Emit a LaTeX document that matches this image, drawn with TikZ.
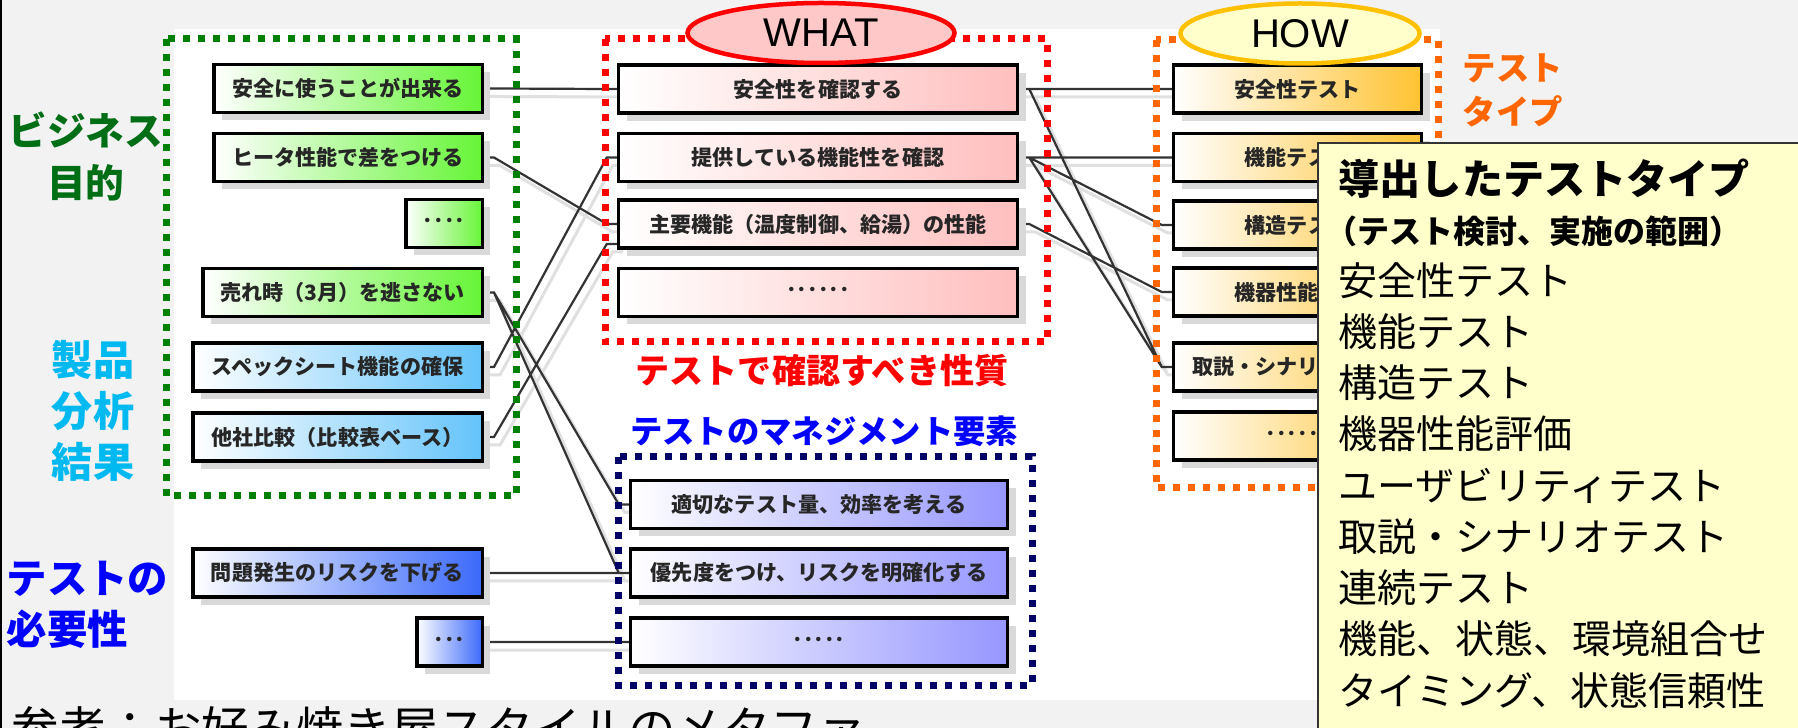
\documentclass[tikz,border=0pt]{standalone}
\usepackage{fontspec}
\setmainfont{Noto Sans CJK JP}
\newfontfamily\latinfont{Liberation Sans}
\usetikzlibrary{shapes.geometric,shadows,backgrounds}

\definecolor{pagegray}{RGB}{242,242,242}
\definecolor{goalgreen}{RGB}{102,245,55}
\definecolor{specblue}{RGB}{100,195,250}
\definecolor{needblue}{RGB}{60,105,250}
\definecolor{whatpink}{RGB}{255,190,190}
\definecolor{mgmtviolet}{RGB}{150,150,255}
\definecolor{howgold}{RGB}{255,195,50}
\definecolor{grpgreen}{RGB}{0,128,0}
\definecolor{grpred}{RGB}{255,0,0}
\definecolor{grpnavy}{RGB}{0,0,102}
\definecolor{grporange}{RGB}{255,102,0}
\definecolor{labelgreen}{RGB}{0,110,20}
\definecolor{labelcyan}{RGB}{0,185,240}
\definecolor{labelblue}{RGB}{0,0,255}
\definecolor{notefill}{RGB}{255,255,204}
\definecolor{whatfill}{RGB}{255,200,200}
\definecolor{howline}{RGB}{255,192,0}

\tikzset{
  item/.style={draw=black, line width=0.35mm, minimum height=0.48cm, inner sep=0pt,
    font=\bfseries\fontsize{6}{7}\selectfont, text=black!85,
    drop shadow={shadow xshift=0.08cm, shadow yshift=-0.08cm, fill=black!15, opacity=1}},
  goal/.style={item, left color=white, right color=goalgreen},
  spec/.style={item, left color=white, right color=specblue},
  need/.style={item, left color=white, right color=needblue},
  prop/.style={item, left color=white, right color=whatpink, minimum width=3.99cm},
  mgmt/.style={item, left color=white, right color=mgmtviolet, minimum width=3.77cm},
  ttype/.style={item, left color=white, right color=howgold, minimum width=2.48cm},
  group/.style={line width=0.7mm, dash pattern=on 0.7mm off 0.8mm},
  link/.style={draw=black!80, line width=0.22mm,
    preaction={draw=black!12, line width=0.3mm, transform canvas={shift={(0.06,-0.08)}}},
    to path={-- ++(0.1,0) -- ([xshift=-0.1cm]\tikztotarget) -- (\tikztotarget)}},
  badge/.style={ellipse, line width=0.45mm, minimum height=0.6cm, inner sep=0pt,
    font=\latinfont\fontsize{11.4}{13}\selectfont},
  tag/.style={inner sep=0pt, font=\bfseries},
}

\begin{document}
\begin{tikzpicture}
    \useasboundingbox (0,0) rectangle (17.98,-7.28);
    \clip (0,0) rectangle (17.98,-7.28);
    % page and sheet
    \begin{scope}[on background layer]
        \fill[pagegray] (0,0) rectangle (17.98,-7.28);
        \fill[white] (1.74,-0.29) rectangle (14.40,-7.00);
        \draw[line width=0.25mm] (0.0125,0) -- (0.0125,-7.28);
    \end{scope}
    % left column: goals, analysis, needs
    \node[goal, minimum width=2.685cm, anchor=east] (safeUse) at (4.84,-0.885) {安全に使うことが出来る};
    \node[goal, minimum width=2.685cm, anchor=east] (heaterPerf) at (4.84,-1.575) {ヒータ性能で差をつける};
    \node[goal, minimum width=0.765cm, anchor=east] (goalDots) at (4.84,-2.235) {････};
    \node[goal, minimum width=2.795cm, anchor=east] (season) at (4.84,-2.925) {売れ時（3月）を逃さない};
    \node[spec, minimum width=2.895cm, anchor=east] (specSheet) at (4.84,-3.67) {スペックシート機能の確保};
    \node[spec, minimum width=2.895cm, anchor=east] (compare) at (4.84,-4.37) {他社比較（比較表ベース）};
    \node[need, minimum width=2.895cm, anchor=east] (riskDown) at (4.84,-5.73) {問題発生のリスクを下げる};
    \node[need, minimum width=0.655cm, anchor=east] (needDots) at (4.84,-6.42) {･･･};
    % WHAT column
    \node[prop] (checkSafety) at (8.18,-0.89) {安全性を確認する};
    \node[prop] (checkFunc) at (8.18,-1.575) {提供している機能性を確認};
    \node[prop] (mainPerf) at (8.18,-2.24) {主要機能（温度制御、給湯）の性能};
    \node[prop] (whatDots) at (8.18,-2.925) {･･････};
    \coordinate (mainPerfLow) at ([yshift=-0.2cm]mainPerf.west);
    % management column
    \node[mgmt] (testVolume) at (8.19,-5.045) {適切なテスト量、効率を考える};
    \node[mgmt] (priority) at (8.19,-5.73) {優先度をつけ、リスクを明確化する};
    \node[mgmt] (mgmtDots) at (8.19,-6.42) {･････};
    % HOW column
    \node[ttype] (safetyTest) at (12.975,-0.89) {安全性テスト};
    \node[ttype] (funcTest) at (12.975,-1.575) {機能テスト};
    \node[ttype] (structTest) at (12.975,-2.25) {構造テスト};
    \node[ttype] (devicePerf) at (12.975,-2.92) {機器性能評価};
    \node[ttype] (manualTest) at (12.975,-3.67) {取説・シナリオテスト};
    \node[ttype] (howDots) at (12.975,-4.36) {･･････};
    % connectors
    \begin{scope}[on background layer]
        \draw[link] (safeUse.east) to (checkSafety.west)
            (heaterPerf.east) to (mainPerf.west)
            (season.east) to (testVolume.west)
            (season.east) to (priority.west)
            (specSheet.east) to (checkFunc.west)
            (compare.east) to (mainPerfLow)
            (riskDown.east) to (priority.west)
            (needDots.east) to (mgmtDots.west);
        \draw[link] (checkSafety.east) to (safetyTest.west)
            (checkSafety.east) to (manualTest.west)
            (checkFunc.east) to (funcTest.west)
            (checkFunc.east) to (structTest.west)
            (checkFunc.east) to (manualTest.west)
            (mainPerf.east) to (devicePerf.west);
    \end{scope}
    % dotted groups
    \draw[group, grpgreen] (1.66,-0.39) rectangle (5.16,-4.96);
    \draw[group, grpred] (6.05,-0.39) rectangle (10.47,-3.42);
    \draw[group, grpnavy] (6.18,-4.57) rectangle (10.32,-6.85);
    \draw[group, grporange] (11.56,-0.40) rectangle (14.38,-4.88);
    % WHAT / HOW
    \node[badge, draw=grpred, fill=whatfill, minimum width=2.67cm] (what) at (8.21,-0.33) {WHAT};
    \node[badge, draw=howline, fill=notefill, minimum width=2.39cm] (how) at (13.0,-0.335) {HOW};
    % side labels
    \node[tag, text=labelgreen, align=center, font=\bfseries\fontsize{11}{14.8}\selectfont] (bizLabel) at (0.86,-1.56) {ビジネス\\目的};
    \node[tag, text=labelcyan, align=center, font=\bfseries\fontsize{11.7}{14.5}\selectfont] (prodLabel) at (0.93,-4.11) {製品\\分析\\結果};
    \node[tag, text=labelblue, align=left, anchor=west, font=\bfseries\fontsize{11.5}{14.5}\selectfont] (needLabel) at (0.06,-6.045) {テストの\\必要性};
    \node[tag, text=grporange, align=left, anchor=west, font=\bfseries\fontsize{9.5}{12.5}\selectfont] (typeLabel) at (14.62,-0.90) {テスト\\タイプ};
    \node[tag, text=grpred, font=\bfseries\fontsize{9.7}{12}\selectfont] (propTitle) at (8.22,-3.71) {テストで確認すべき性質};
    \node[tag, text=labelblue, font=\bfseries\fontsize{9.2}{12}\selectfont] (mgmtTitle) at (8.24,-4.31) {テストのマネジメント要素};
    % derived test types
    \node[draw=black!80, line width=0.2mm, fill=notefill, anchor=north west, minimum width=5.2cm, minimum height=6.2cm] (typeBox) at (13.17,-1.42) {};
    \node[inner sep=0pt, anchor=base west] (typeText) at (13.38,-1.946) {\begin{minipage}[t]{4.5cm}
        {\fontsize{11.7}{14}\selectfont\bfseries 導出したテストタイプ\par}
        {\fontsize{9.1}{14.05}\selectfont\bfseries \hspace*{-0.42em}（テスト検討、実施の範囲）\par}
        \fontsize{11.1}{14.58}\selectfont
        安全性テスト\\
        機能テスト\\
        構造テスト\\
        機器性能評価\\
        ユーザビリティテスト\\
        取説・シナリオテスト\\
        連続テスト\\
        機能、状態、環境組合せ\\
        タイミング、状態信頼性
    \end{minipage}};
    % source note
    \node[inner sep=0pt, anchor=base west, font=\fontsize{13.5}{16}\selectfont] (note) at (0.11,-7.465) {参考：お好み焼き屋スタイルのメタファ};
\end{tikzpicture}
\end{document}
